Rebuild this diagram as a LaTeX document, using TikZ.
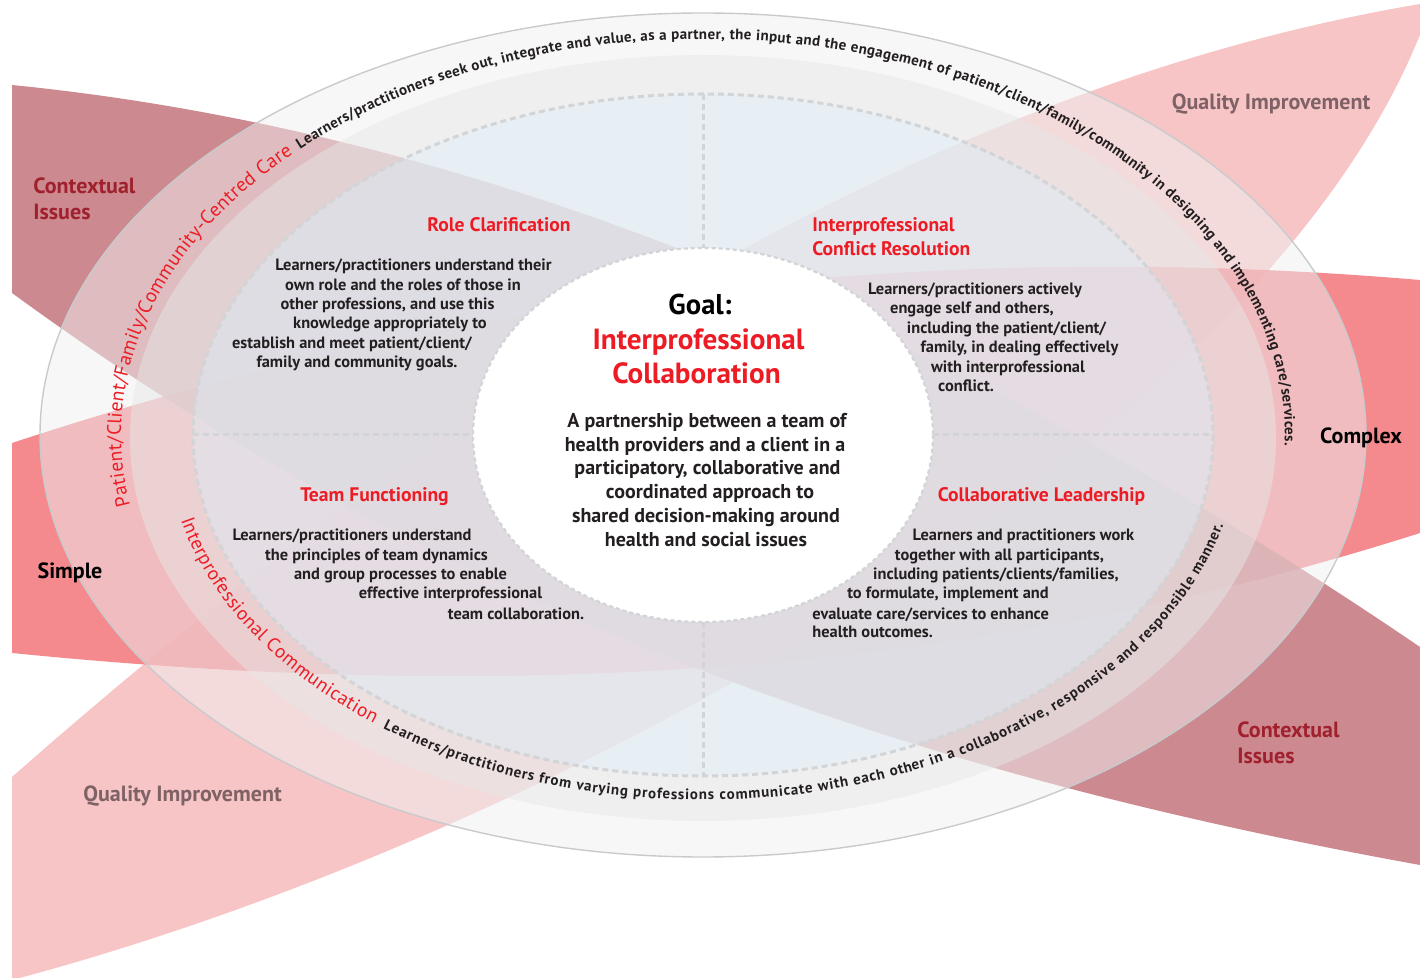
\documentclass[tikz,border=0pt]{standalone}
\usepackage{fontspec}
\setmainfont{PT Sans}
\usetikzlibrary{decorations.text,calc}
\definecolor{cdark}{RGB}{195,117,124}
\definecolor{cred}{RGB}{242,117,122}
\definecolor{cpink}{RGB}{248,197,199}
\definecolor{hred}{RGB}{237,28,36}
\definecolor{ctx}{RGB}{160,32,45}
\definecolor{qi}{RGB}{126,98,101}
\definecolor{dashc}{RGB}{210,212,214}
\definecolor{txt}{RGB}{35,31,32}
\definecolor{ovA}{RGB}{240,240,240}
\definecolor{ovB}{RGB}{231,231,231}
\definecolor{ovC}{RGB}{220,239,253}
\definecolor{rimc}{RGB}{200,202,204}
\newcommand\crvR{\fontsize{9.8}{9.8}\selectfont\color{hred}}
\newcommand\crvRb{\fontsize{9.6}{9.6}\selectfont\color{hred}}
\newcommand\crvK{\fontsize{7.5}{7.5}\selectfont\bfseries\color{txt}}
\begin{document}
\begin{tikzpicture}[x=0.5pt,y=-0.5pt,
  body/.style={font=\bfseries\fontsize{8.2}{9}\selectfont, text=txt, anchor=base, inner sep=0pt},
  head/.style={font=\bfseries\fontsize{9.8}{11}\selectfont, text=hred, anchor=base, inner sep=0pt},
  para/.style={font=\bfseries\fontsize{10}{11}\selectfont, text=txt, anchor=base, inner sep=0pt},
  outer/.style={font=\bfseries\fontsize{11}{12}\selectfont, anchor=base, inner sep=0pt},
  qline/.style={draw=dashc, line width=1.5pt, dash pattern=on 3pt off 2pt},
  curved/.style={decorate, decoration={text along path, text align={fit to path}, text={#1}}}
]
\useasboundingbox (0,0) rectangle (1420,978);
\coordinate (C) at (703,435);
% leaves
\begin{scope}
\clip (12,0) rectangle (1420,978);
\fill[cpink] (12,777) .. controls (482,363) and (950,80) .. (1432,2)
  .. controls (1290,430) and (560,835) .. (12,980) -- cycle;
\fill[cred, fill opacity=0.85] (12,443) .. controls (482,288) and (950,240) .. (1420,280)
  -- (1420,533) .. controls (950,683) and (482,700) .. (12,653) -- cycle;
\fill[cdark, fill opacity=0.85] (12,85) .. controls (482,132) and (950,327) .. (1420,647)
  -- (1420,865) .. controls (950,780) and (482,636) .. (12,293) -- cycle;
\end{scope}
% ellipses
\fill[ovA, fill opacity=0.5] (C) ellipse [x radius=663, y radius=422];
\draw[rimc, line width=0.7pt] (C) ellipse [x radius=663, y radius=422];
\fill[ovB, fill opacity=0.5] (703,438) ellipse [x radius=573, y radius=383];
\fill[ovC, fill opacity=0.42] (C) ellipse [x radius=510, y radius=341];
\draw[qline] (C) ellipse [x radius=510, y radius=341];
\fill[white] (703,435) ellipse [x radius=230, y radius=187];
\draw[draw=dashc, line width=1.1pt, dash pattern=on 2pt off 1.5pt] (703,435) ellipse [x radius=230, y radius=187];
% quadrant dividers
\coordinate (vt1) at (703,94);
\coordinate (vt2) at (703,248);
\coordinate (vb1) at (703,622);
\coordinate (vb2) at (703,776);
\coordinate (hl1) at (193,435);
\coordinate (hl2) at (473,435);
\coordinate (hr1) at (933,435);
\coordinate (hr2) at (1213,435);
\draw[qline] (vt1) -- (vt2);
\draw[qline] (vb1) -- (vb2);
\draw[qline] (hl1) -- (hl2);
\draw[qline] (hr1) -- (hr2);
% curved texts
\coordinate (tsA) at ($(C)+(169.8:582 and 396)$);
\coordinate (tsB) at ($(C)+(226.2:582 and 396)$);
\coordinate (bsA) at ($(C)+(166.5:537 and 365)$);
\coordinate (bsB) at ($(C)+(126.6:537 and 365)$);
\path[curved={|\crvR|Patient/Client/Family/Community-Centred Care}] (tsA) arc[start angle=169.8, end angle=225.2, x radius=582, y radius=396];
\path[curved={|\crvK|Learners/practitioners seek out, integrate and value, as a partner, the input and the engagement of patient/client/family/community in designing and implementing care/services.}] (tsB) arc[start angle=226.2, end angle=361.4, x radius=582, y radius=396];
\path[curved={|\crvRb|Interprofessional Communication}] (bsA) arc[start angle=166.5, end angle=127.8, x radius=537, y radius=365];
\path[curved={|\crvK|Learners/practitioners from varying professions communicate with each other in a collaborative, responsive and responsible manner.}] (bsB) arc[start angle=126.6, end angle=14.3, x radius=537, y radius=365];
% outer labels
\node[outer, text=ctx, anchor=base west] (ctxa1) at (33,194) {Contextual};
\node[outer, text=ctx, anchor=base west] (ctxa2) at (33,220) {Issues};
\node[outer, text=ctx, anchor=base west] (ctxb1) at (1237,737) {Contextual};
\node[outer, text=ctx, anchor=base west] (ctxb2) at (1237,763) {Issues};
\node[outer, text=qi] (qia) at (1271,110) {Quality Improvement};
\node[outer, text=qi] (qib) at (182.5,801) {Quality Improvement};
\node[outer, text=black] (cplx) at (1361,444) {Complex};
\node[outer, text=black] (smpl) at (70,579) {Simple};
% headings
\node[head] (hrc) at (499,232) {Role Clarification};
\node[head, anchor=base west] (hcr1) at (812,232) {Interprofessional};
\node[head, anchor=base west] (hcr2) at (812,256) {Conflict Resolution};
\node[head] (htf) at (374.5,502) {Team Functioning};
\node[head] (hcl) at (1041.5,502) {Collaborative Leadership};
% goal
\node[font=\bfseries\fontsize{14.3}{16}\selectfont, text=black, anchor=base, inner sep=0pt] (goal) at (700,315) {Goal:};
\node[font=\bfseries\fontsize{14.6}{16}\selectfont, text=hred, anchor=base, inner sep=0pt] (goal2) at (698.5,350) {Interprofessional};
\node[font=\bfseries\fontsize{14.6}{16}\selectfont, text=hred, anchor=base, inner sep=0pt] (goal3) at (696.5,384) {Collaboration};
\node[para] (p1) at (707,428) {A partnership between a team of};
\node[para] (p2) at (705,452) {health providers and a client in a};
\node[para] (p3) at (707.5,475) {participatory, collaborative and};
\node[para] (p4) at (710,499) {coordinated approach to};
\node[para] (p5) at (706,523) {shared decision-making around};
\node[para] (p6) at (706,547) {health and social issues};
% role clarification
\node[body] (rc1) at (413.5,271) {Learners/practitioners understand their};
\node[body] (rc2) at (403,291) {own role and the roles of those in};
\node[body] (rc3) at (387.5,310) {other professions, and use this};
\node[body] (rc4) at (390,329) {knowledge appropriately to};
\node[body] (rc5) at (352,349) {establish and meet patient/client/};
\node[body] (rc6) at (357,368) {family and community goals.};
% conflict resolution
\node[body] (cr1) at (975,295) {Learners/practitioners actively};
\node[body] (cr2) at (972,314) {engage self and others,};
\node[body] (cr3) at (1006.5,334) {including the patient/client/};
\node[body] (cr4) at (1019.5,353) {family, in dealing effectively};
\node[body] (cr5) at (1008,373) {with interprofessional};
\node[body] (cr6) at (966,392) {conflict.};
% team functioning
\node[body] (tf1) at (352,541) {Learners/practitioners understand};
\node[body] (tf2) at (376.5,560) {the principles of team dynamics};
\node[body] (tf3) at (400.5,580) {and group processes to enable};
\node[body] (tf4) at (450.5,599) {effective interprofessional};
\node[body] (tf5) at (516,619) {team collaboration.};
% collaborative leadership
\node[body] (cl1) at (1023.5,541) {Learners and practitioners work};
\node[body] (cl2) at (999.5,560) {together with all participants,};
\node[body] (cl3) at (996,580) {including patients/clients/families,};
\node[body] (cl4) at (948,599) {to formulate, implement and};
\node[body, anchor=base west] (cl5) at (812,619) {evaluate care/services to enhance};
\node[body, anchor=base west] (cl6) at (812,638) {health outcomes.};
\end{tikzpicture}
\end{document}
